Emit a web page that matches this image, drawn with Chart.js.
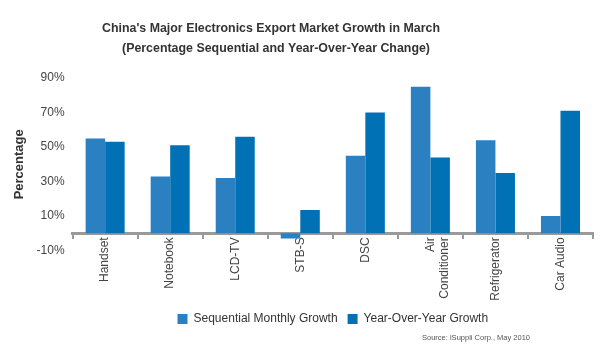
<!DOCTYPE html>
<html>
<head>
<meta charset="utf-8">
<script src="https://cdn.jsdelivr.net/npm/chart.js@4"></script>
<style>
  html, body { margin: 0; padding: 0; background: #ffffff; }
  #wrap { width: 600px; height: 348px; }
</style>
</head>
<body>
<div id="wrap"><canvas id="chart" width="600" height="348"></canvas></div>
<script>
// Export growth by product line, March
const categories = ['Handset', 'Notebook', 'LCD-TV', 'STB-S', 'DSC', ['Air', 'Conditioner'], 'Refrigerator', 'Car Audio'];
const sequentialGrowth = [55, 33, 32, -3, 45, 85, 54, 10];
const yearOverYearGrowth = [53, 51, 56, 13.5, 70, 44, 35, 71];
const yTickValues = [-10, 10, 30, 50, 70, 90];
const seriesNames = ['Sequential Monthly Growth', 'Year-Over-Year Growth'];
const titleLines = ["China's Major Electronics Export Market Growth in March",
                    '(Percentage Sequential and Year-Over-Year Change)'];
const sourceNote = 'Source: iSuppli Corp., May 2010';

const FONT = '"Liberation Sans", Arial, Helvetica, sans-serif';

// Two-line heading and the source credit, drawn onto the canvas
const captionPlugin = {
  id: 'captions',
  afterDraw(chart) {
    const ctx = chart.ctx;
    ctx.save();
    ctx.fillStyle = '#333333';
    ctx.textBaseline = 'middle';
    ctx.textAlign = 'center';
    const heading = [
      { text: titleLines[0], x: 271, y: 28, w: 338 },
      { text: titleLines[1], x: 276, y: 48, w: 308 }
    ];
    ctx.font = 'bold 13px ' + FONT;
    heading.forEach(h => {
      const natural = ctx.measureText(h.text).width;
      const sx = Math.min(1, h.w / natural);
      ctx.save();
      ctx.translate(h.x, h.y);
      ctx.scale(sx, 1);
      ctx.fillText(h.text, 0, 0);
      ctx.restore();
    });
    ctx.font = '7.5px ' + FONT;
    ctx.fillStyle = '#555555';
    ctx.textAlign = 'right';
    ctx.fillText(sourceNote, 530, 338);
    ctx.restore();
  }
};

new Chart(document.getElementById('chart'), {
  type: 'bar',
  data: {
    labels: categories,
    datasets: [
      {
        label: seriesNames[0],
        data: sequentialGrowth,
        backgroundColor: '#2b80c2',
        borderWidth: 0
      },
      {
        label: seriesNames[1],
        data: yearOverYearGrowth,
        backgroundColor: '#0071b5',
        borderWidth: 0
      }
    ]
  },
  options: {
    responsive: false,
    animation: false,
    devicePixelRatio: 1,
    categoryPercentage: 0.6,
    barPercentage: 1.0,
    layout: { padding: { top: 78, left: 6, right: 7, bottom: 13 } },
    plugins: {
      title: { display: false },
      tooltip: { enabled: false },
      legend: {
        position: 'bottom',
        fullSize: false,
        title: { display: true, text: '', padding: { top: 38, bottom: 0 }, font: { size: 12, family: FONT } },
        labels: {
          boxWidth: 10,
          boxHeight: 10,
          padding: 10,
          color: '#333333',
          font: { size: 12, family: FONT }
        }
      }
    },
    scales: {
      x: {
        position: { y: 0 },
        afterFit(scale) { scale.height = 0; },
        grid: {
          display: true,
          drawOnChartArea: false,
          drawTicks: true,
          tickLength: 4,
          color: '#9a9a9a',
          lineWidth: 2,
          offset: true
        },
        border: { display: true, color: '#9a9a9a', width: 3 },
        ticks: {
          autoSkip: false,
          minRotation: 90,
          maxRotation: 90,
          padding: 0,
          color: '#444444',
          font: { size: 12, family: FONT }
        }
      },
      y: {
        min: -10,
        max: 90,
        afterBuildTicks(scale) { scale.ticks = yTickValues.map(v => ({ value: v })); },
        grid: { display: false, drawTicks: false },
        border: { display: false },
        title: {
          display: true,
          text: 'Percentage',
          color: '#333333',
          font: { size: 13, weight: 'bold', family: FONT },
          padding: { top: 6, bottom: 1 }
        },
        ticks: {
          padding: 8,
          color: '#444444',
          font: { size: 12, family: FONT },
          callback: v => v + '%'
        }
      }
    }
  },
  plugins: [captionPlugin]
});
</script>
</body>
</html>
